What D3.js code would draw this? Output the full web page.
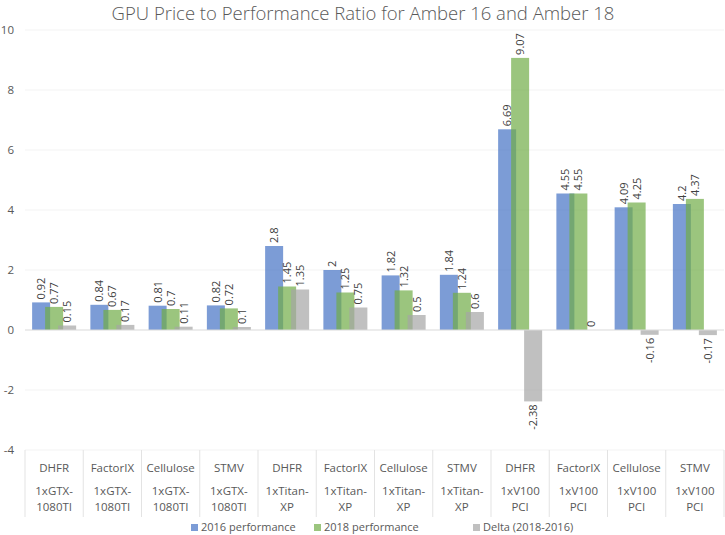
<!DOCTYPE html>
<html>
<head>
<meta charset="utf-8">
<script src="https://cdn.jsdelivr.net/npm/d3@7"></script>
<style>
  body { margin: 0; background: #fff; }
  text { font-family: "Open Sans", "Noto Sans", sans-serif; }
</style>
</head>
<body>
<svg id="chart" width="725" height="535"></svg>
<script>
// chart data
var benchmarks = ['DHFR', 'FactorIX', 'Cellulose', 'STMV', 'DHFR', 'FactorIX', 'Cellulose', 'STMV', 'DHFR', 'FactorIX', 'Cellulose', 'STMV'];
var gpuLine1 = ['1xGTX-', '1xGTX-', '1xGTX-', '1xGTX-', '1xTitan-', '1xTitan-', '1xTitan-', '1xTitan-', '1xV100', '1xV100', '1xV100', '1xV100'];
var gpuLine2 = ['1080TI', '1080TI', '1080TI', '1080TI', 'XP', 'XP', 'XP', 'XP', 'PCI', 'PCI', 'PCI', 'PCI'];
var perf2016 = [0.92, 0.84, 0.81, 0.82, 2.8, 2, 1.82, 1.84, 6.69, 4.55, 4.09, 4.2];
var perf2018 = [0.77, 0.67, 0.7, 0.72, 1.45, 1.25, 1.32, 1.24, 9.07, 4.55, 4.25, 4.37];
var delta = [0.15, 0.17, 0.11, 0.1, 1.35, 0.75, 0.5, 0.6, -2.38, 0, -0.16, -0.17];
var seriesNames = ['2016 performance', '2018 performance', 'Delta (2018-2016)'];
var seriesColors = ['#4472C4', '#70AD47', '#A5A5A5'];
var yTicks = [-4, -2, 0, 2, 4, 6, 8, 10];

var svg = d3.select('#chart');
var series = [perf2016, perf2018, delta];

var x = d3.scaleBand().domain(d3.range(benchmarks.length)).range([25, 724]);
var sub = d3.scalePoint().domain([0, 1, 2]).range([0, 26]);
var barW = 18;
var y = d3.scaleLinear().domain([-4, 10]).range([450, 30]);

// title
svg.append('text')
  .attr('x', 363)
  .attr('y', 20)
  .attr('text-anchor', 'middle')
  .attr('font-size', '18.5px')
  .attr('font-weight', 300)
  .attr('fill', '#595959')
  .text('GPU Price to Performance Ratio for Amber 16 and Amber 18');

// gridlines
svg.append('g')
  .selectAll('line')
  .data(yTicks.filter(d => d !== 0))
  .join('line')
  .attr('x1', 25)
  .attr('x2', 724)
  .attr('y1', d => y(d))
  .attr('y2', d => y(d))
  .attr('stroke', '#f3f3f3')
  .attr('stroke-width', 1);

// y tick labels
svg.append('g')
  .selectAll('text')
  .data(yTicks)
  .join('text')
  .attr('x', 14)
  .attr('y', d => y(d) + 4)
  .attr('text-anchor', 'end')
  .attr('font-size', '11.5px')
  .attr('fill', '#595959')
  .text(d => d);

// bars
var offset0 = (x.bandwidth() - (26 + barW)) / 2;
series.forEach(function (vals, si) {
  var g = svg.append('g');
  g.selectAll('rect')
    .data(vals)
    .join('rect')
    .attr('x', (d, i) => x(i) + offset0 + sub(si))
    .attr('y', d => y(Math.max(0, d)))
    .attr('width', barW)
    .attr('height', d => Math.abs(y(d) - y(0)))
    .attr('fill', seriesColors[si])
    .attr('fill-opacity', 0.7);

  g.selectAll('text')
    .data(vals)
    .join('text')
    .attr('transform', function (d, i) {
      var cx = x(i) + offset0 + sub(si) + barW / 2 + 4;
      var cy = d >= 0 ? y(d) - 3 : y(d) + 3;
      return 'translate(' + cx + ',' + cy + ') rotate(-90)';
    })
    .attr('text-anchor', d => d >= 0 ? 'start' : 'end')
    .attr('font-size', '11px')
    .attr('fill', '#404040')
    .text(d => d);
});

// zero axis
svg.append('line')
  .attr('x1', 25)
  .attr('x2', 724)
  .attr('y1', y(0))
  .attr('y2', y(0))
  .attr('stroke', '#d9d9d9')
  .attr('stroke-width', 1);

// category separators
var seps = d3.range(benchmarks.length + 1).map(i => i < benchmarks.length ? x(i) : x.range()[1]);
svg.append('g')
  .selectAll('line')
  .data(seps)
  .join('line')
  .attr('x1', d => d)
  .attr('x2', d => d)
  .attr('y1', y(-4))
  .attr('y2', 517)
  .attr('stroke', '#e3e3e3')
  .attr('stroke-width', 1);

// category labels, one text per row
var labelRows = [[benchmarks, 472], [gpuLine1, 495], [gpuLine2, 511]];
var labels = svg.append('g');
labelRows.forEach(function (row) {
  labels.append('g')
    .selectAll('text')
    .data(row[0])
    .join('text')
    .attr('x', (d, i) => x(i) + x.bandwidth() / 2)
    .attr('y', row[1])
    .attr('text-anchor', 'middle')
    .attr('font-size', '11.5px')
    .attr('fill', '#595959')
    .text(d => d);
});

// legend
var legendX = [191, 314, 473];
var legend = svg.append('g');
seriesNames.forEach(function (name, i) {
  legend.append('rect')
    .attr('x', legendX[i])
    .attr('y', 524)
    .attr('width', 7)
    .attr('height', 7)
    .attr('fill', seriesColors[i])
    .attr('fill-opacity', 0.7);
  legend.append('text')
    .attr('x', legendX[i] + 10)
    .attr('y', 531)
    .attr('font-size', '11px')
    .attr('fill', '#595959')
    .text(name);
});
</script>
</body>
</html>
